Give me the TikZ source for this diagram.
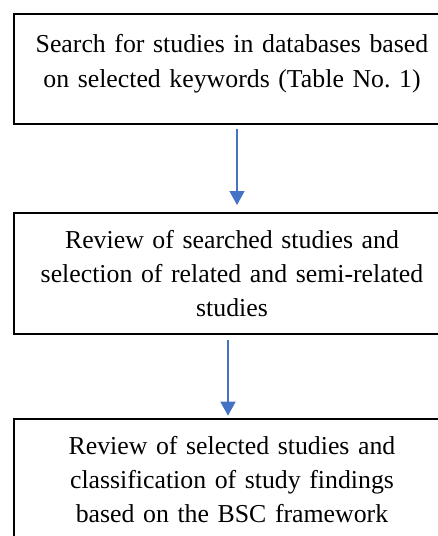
\documentclass[tikz,border=0pt]{standalone}
\usepackage{fontspec}
\setmainfont{Liberation Serif}
\frenchspacing
\usetikzlibrary{positioning,arrows.meta}
\definecolor{flowblue}{HTML}{4472C4}

\begin{document}
\begin{tikzpicture}[x=1pt,y=1pt,
    stepbox/.style={draw,line width=2pt,minimum width=436pt,text width=420pt,align=center,inner sep=0pt,font=\fontsize{25.8}{33.9}\selectfont},
    flow/.style={draw=flowblue,line width=1.6pt,-{Triangle[width=15pt,length=14pt]}}]
    \useasboundingbox (0,0) rectangle (438,-536);
    \clip (0,0) rectangle (438,-536);
    \node[stepbox,minimum height=110.6pt,anchor=north west] (search) at (13,-12.7) {Search for studies in databases based\\[1.2pt]on selected keywords (Table No. 1)\rule[-17pt]{0pt}{0pt}};
    \node[stepbox,minimum height=121pt,below=86.4pt of search] (review) {Review of searched studies and\\selection of related and semi-related\\studies};
    \node[stepbox,minimum height=121pt,below=83.6pt of review] (classify) {Review of selected studies and\\classification of study findings\\based on the BSC framework};
    \draw[flow,shorten <=4pt,shorten >=6.7pt] ([xshift=5pt]search.south)--([xshift=5pt]review.north);
    \draw[flow,shorten <=5.6pt,shorten >=2.6pt] ([xshift=-4pt]review.south)--([xshift=-4pt]classify.north);
\end{tikzpicture}
\end{document}
